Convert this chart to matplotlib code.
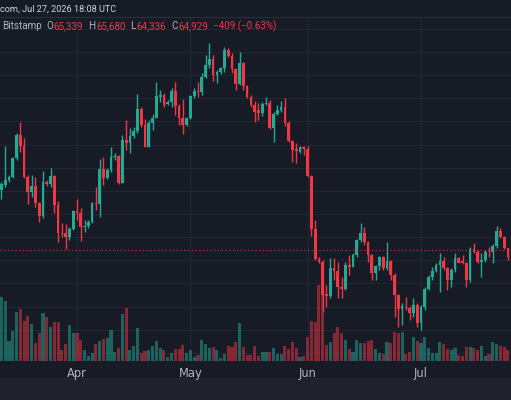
import matplotlib
matplotlib.use('Agg')
import matplotlib.pyplot as plt
import numpy as np
import pandas as pd
from matplotlib.patches import Rectangle
from matplotlib.lines import Line2D

# daily candles, Mar 12 - Jul 24 2026, prices in thousands of USD
dates = pd.date_range('2026-03-12', '2026-07-24', freq='D')

opens = [70.08, 70.51, 70.94, 71.23, 72.82, 74.86, 73.88, 71.23, 69.94, 70.45,
         68.93, 67.86, 70.80, 70.60, 71.29, 68.78, 66.39, 66.34, 65.99, 66.74,
         68.24, 68.06, 66.85, 66.98, 67.32, 68.99, 68.87, 71.89, 71.09, 71.81,
         72.90, 73.05, 70.71, 74.40, 74.17, 74.77, 75.18, 77.08, 75.70, 73.82,
         75.90, 76.33, 78.14, 78.29, 77.51, 77.71, 78.66, 77.37, 76.27, 75.70,
         76.27, 78.20, 78.66, 78.52, 79.81, 80.88, 81.40, 80.02, 80.25, 80.59,
         82.18, 81.69, 80.51, 79.24, 81.02, 79.07, 78.14, 77.42, 76.99, 76.76,
         77.48, 77.63, 75.41, 76.65, 76.99, 77.28, 75.84, 74.34, 73.59, 73.39,
         73.77, 73.59, 71.29, 66.68, 64.09, 63.89, 61.09, 60.92, 63.31, 63.11,
         61.73, 61.50, 63.60, 63.46, 64.46, 65.76, 66.34, 65.62, 64.46, 62.94,
         63.51, 64.26, 63.31, 63.97, 62.74, 61.01, 59.77, 60.00, 59.86, 59.48,
         60.14, 58.56, 60.00, 61.50, 62.53, 63.08, 63.60, 63.97, 63.31, 62.30,
         63.17, 64.18, 63.97, 63.80, 62.30, 64.95, 64.72, 63.86, 64.03, 64.75,
         64.72, 65.24, 66.57, 66.05, 65.04]
highs = [70.80, 73.88, 71.38, 72.96, 74.98, 75.98, 74.54, 71.38, 71.38, 71.23,
         69.00, 71.75, 70.94, 72.01, 71.38, 69.13, 67.26, 67.11, 66.91, 68.35,
         69.27, 68.55, 67.49, 67.49, 69.07, 70.37, 72.79, 72.96, 71.95, 73.77,
         73.25, 73.10, 74.83, 76.13, 75.41, 75.49, 78.37, 77.28, 76.21, 76.13,
         76.65, 79.44, 78.72, 78.43, 77.86, 78.86, 79.44, 77.50, 77.91, 76.42,
         78.29, 78.86, 79.44, 80.16, 81.74, 82.75, 81.74, 80.45, 80.74, 82.46,
         82.32, 81.89, 80.59, 82.03, 81.17, 79.15, 78.29, 77.77, 77.57, 77.71,
         78.09, 77.86, 76.85, 77.42, 77.80, 78.00, 76.07, 74.40, 74.11, 73.88,
         73.88, 73.88, 71.38, 67.49, 64.32, 64.03, 61.87, 64.18, 64.18, 63.89,
         62.59, 63.89, 64.46, 64.61, 65.82, 67.26, 66.91, 65.70, 64.55, 63.60,
         64.38, 64.38, 65.62, 64.03, 62.88, 61.10, 60.29, 60.86, 60.06, 60.72,
         60.29, 60.14, 61.73, 62.74, 63.46, 63.74, 64.67, 64.32, 63.46, 63.31,
         64.61, 64.32, 64.46, 63.89, 65.13, 65.53, 64.90, 64.61, 64.90, 65.18,
         65.41, 66.97, 66.77, 66.11, 65.10]
lows = [69.27, 70.37, 70.80, 71.09, 72.67, 73.39, 71.09, 68.87, 69.50, 68.64,
        67.34, 67.63, 70.43, 70.37, 68.12, 65.62, 66.05, 64.95, 65.76, 66.62,
        67.49, 65.67, 66.48, 66.77, 67.20, 68.35, 67.78, 70.51, 71.00, 71.66,
        72.67, 70.60, 70.66, 73.54, 73.31, 74.54, 74.98, 75.55, 73.77, 73.77,
        75.26, 76.27, 77.71, 77.28, 77.42, 77.28, 76.56, 75.70, 74.92, 75.61,
        76.19, 78.00, 78.14, 78.29, 79.73, 80.59, 79.53, 79.30, 80.10, 80.30,
        81.60, 80.16, 78.72, 79.15, 78.72, 78.00, 77.28, 75.98, 76.13, 76.47,
        77.42, 75.32, 74.26, 76.56, 76.85, 75.61, 74.26, 72.53, 72.44, 73.25,
        73.10, 71.23, 66.11, 64.03, 63.74, 59.57, 60.00, 60.72, 62.30, 60.72,
        60.72, 61.44, 62.74, 63.40, 64.32, 65.62, 65.33, 63.89, 62.30, 62.30,
        63.17, 63.17, 63.17, 62.30, 59.14, 58.21, 58.42, 59.71, 58.85, 59.14,
        58.27, 57.98, 59.71, 61.44, 62.30, 63.00, 61.30, 63.17, 61.44, 61.67,
        63.00, 63.74, 63.69, 61.73, 62.16, 64.61, 63.74, 62.53, 63.89, 64.32,
        63.74, 65.04, 65.90, 64.95, 64.03]
closes = [70.60, 70.94, 71.23, 72.82, 74.86, 73.88, 71.23, 69.94, 70.45, 68.93,
          67.86, 70.80, 70.60, 71.29, 68.78, 66.39, 66.25, 65.99, 66.74, 68.24,
          68.06, 66.91, 66.98, 67.32, 68.99, 68.87, 71.89, 71.09, 71.81, 72.96,
          73.05, 70.71, 74.40, 74.17, 74.77, 75.18, 77.08, 75.70, 73.82, 75.90,
          76.33, 78.20, 78.29, 77.42, 77.71, 78.66, 77.37, 76.27, 75.70, 76.27,
          78.20, 78.66, 78.52, 79.81, 80.88, 81.40, 80.02, 80.25, 80.59, 82.18,
          81.69, 80.51, 79.24, 81.02, 79.07, 78.14, 77.42, 76.85, 76.76, 77.48,
          77.63, 75.41, 76.65, 76.99, 77.28, 75.84, 74.34, 73.54, 73.45, 73.77,
          73.59, 71.29, 66.68, 64.09, 63.89, 61.01, 60.92, 63.31, 63.11, 61.73,
          61.50, 63.60, 63.46, 64.46, 65.76, 66.34, 65.62, 64.46, 62.94, 63.51,
          64.26, 63.31, 63.97, 62.74, 61.01, 59.77, 60.06, 59.86, 59.48, 60.14,
          58.56, 60.00, 61.50, 62.53, 63.08, 63.60, 63.97, 63.31, 62.30, 63.17,
          64.18, 63.80, 63.80, 62.30, 64.95, 64.72, 63.89, 64.03, 64.75, 64.69,
          65.24, 66.57, 66.05, 65.04, 64.26]
volumes = [193, 180, 60, 90, 148, 155, 120, 135, 110, 55,
           83, 143, 131, 103, 116, 118, 33, 51, 108, 83,
           85, 63, 33, 15, 25, 50, 60, 66, 70, 93,
           28, 38, 141, 160, 33, 45, 100, 23, 30, 33,
           45, 60, 38, 33, 13, 23, 36, 36, 48, 23,
           33, 13, 18, 63, 51, 38, 41, 33, 10, 20,
           45, 41, 56, 115, 43, 18, 18, 45, 16, 28,
           28, 28, 38, 20, 20, 45, 35, 56, 38, 13,
           15, 71, 120, 116, 228, 198, 48, 56, 85, 103,
           85, 63, 35, 28, 63, 53, 53, 60, 63, 36,
           23, 20, 56, 53, 86, 85, 88, 20, 28, 73,
           60, 53, 73, 38, 23, 23, 58, 51, 36, 33,
           38, 18, 15, 41, 41, 38, 33, 46, 15, 20,
           58, 51, 45, 41, 33]

month_ticks = ['2026-04-01', '2026-05-01', '2026-06-01', '2026-07-01']
month_labels = ['Apr', 'May', 'Jun', 'Jul']
last_price = 64929

bg = '#171b26'
up = '#22ab94'
down = '#f23645'
txt = '#b2b5be'
grid = '#232733'

o = np.array(opens) * 1000
h = np.array(highs) * 1000
l = np.array(lows) * 1000
c = np.array(closes) * 1000
v = np.array(volumes)
cols = np.where(c >= o, up, down)

fig = plt.figure(figsize=(5.11, 4.0), dpi=100, facecolor=bg)
ax = fig.add_axes([0, 39 / 400, 1, 344 / 400])

# volume overlay sits underneath the candle axes
axv = ax.twinx()
axv.set_zorder(1)
ax.set_zorder(2)
ax.patch.set_visible(False)
axv.patch.set_facecolor(bg)
axv.bar(dates, v, width=0.82, color=cols, alpha=0.5, linewidth=0, zorder=2)
axv.set_ylim(0, 1032)
axv.set_yticks([])

ymin, ymax = 55300, 85020
for yv in range(56000, 86000, 2000):
    axv.axhline((yv - ymin) / (ymax - ymin) * 1032, color=grid, lw=0.8, zorder=0)
for t in pd.to_datetime(month_ticks):
    axv.axvline(t, color=grid, lw=0.8, zorder=0)

# candles
ax.vlines(dates, l, h, colors=cols, linewidth=1.0)
body = np.maximum(np.abs(c - o), 60)
ax.bar(dates, body, bottom=np.minimum(o, c), width=0.72, color=cols, linewidth=0)
ax.axhline(last_price, color=down, lw=0.9, ls=(0, (1, 2)), alpha=0.75)

ref = pd.Timestamp('2026-04-01')
ax.set_xlim(ref - pd.Timedelta(days=20.37), ref + pd.Timedelta(days=114.81))
ax.set_ylim(ymin, ymax)
ax.set_xticks(pd.to_datetime(month_ticks))
ax.set_xticklabels(month_labels)
ax.set_yticks([])
ax.tick_params(axis='x', length=0, pad=4, colors=txt, labelsize=8.3)
for s in list(ax.spines.values()) + list(axv.spines.values()):
    s.set_visible(False)

# header
fig.add_artist(Line2D([0, 1], [1 - 17 / 400, 1 - 17 / 400], color='#2a2e39', lw=0.8))
fig.add_artist(Rectangle((0, 0), 1, 22 / 400, color='#1f222c', zorder=0))
fig.text(0, 1 - 9 / 400, 'com, Jul 27, 2026 18:08 UTC', color='#d1d4dc',
         fontsize=6.6, family='Roboto', va='center', ha='left')

pieces = [('Bitstamp', txt, 5), ('O', txt, 0.5), ('65,339', down, 5),
          ('H', txt, 0.5), ('65,680', down, 5), ('L', txt, 0.5),
          ('64,336', down, 5), ('C', txt, 0.5), ('64,929', down, 5),
          ('\u2212409 (\u22120.63%)', down, 0)]
r = fig.canvas.get_renderer()
xpx = 1.7
for s, col, gap in pieces:
    t = fig.text(xpx / 511, 1 - 26 / 400, s, color=col, fontsize=7.1,
                 family='Roboto', va='center', ha='left')
    xpx += t.get_window_extent(r).width + gap

fig.savefig('out.png', dpi=100, facecolor=bg)
